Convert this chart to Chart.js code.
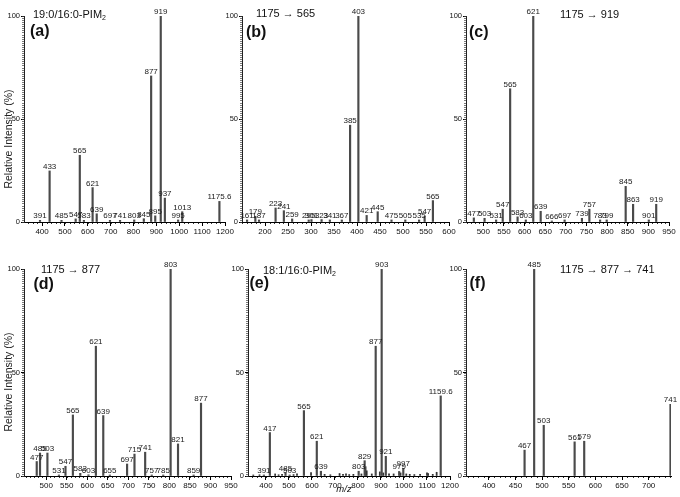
<!DOCTYPE html>
<html><head><meta charset="utf-8">
<script src="https://cdn.jsdelivr.net/npm/chart.js@4.4.0/dist/chart.umd.min.js"></script>
<style>
html,body{margin:0;padding:0;background:#fff;}
#wrap{position:relative;width:680px;height:497px;overflow:hidden;background:#fff;}
canvas{position:absolute;}
.t{position:absolute;font-family:'Liberation Sans',Arial,sans-serif;color:#111;white-space:nowrap;line-height:1;z-index:5;}
.tt{font-size:11px;}
.lt{font-size:16px;font-weight:bold;}
.yl{font-size:10.5px;color:#222;transform:translate(-50%,-50%) rotate(-90deg);}
.mz{font-size:9.5px;font-style:italic;transform:translate(-50%,-50%);}
sub{font-size:7px;vertical-align:-2px;line-height:0;}
</style></head><body><div id="wrap">
<div class="t tt" style="left:33px;top:8.6px">19:0/16:0-PIM<sub>2</sub></div>
<div class="t lt" style="left:30px;top:23px">(a)</div>
<div class="t tt" style="left:256px;top:7.6px">1175 → 565</div>
<div class="t lt" style="left:246px;top:24px">(b)</div>
<div class="t tt" style="left:560px;top:8.6px">1175 → 919</div>
<div class="t lt" style="left:469px;top:23.5px">(c)</div>
<div class="t tt" style="left:41px;top:263.6px">1175 → 877</div>
<div class="t lt" style="left:33.5px;top:276px">(d)</div>
<div class="t tt" style="left:263px;top:265px">18:1/16:0-PIM<sub>2</sub></div>
<div class="t lt" style="left:249.5px;top:275px">(e)</div>
<div class="t tt" style="left:560px;top:263.6px">1175 → 877 → 741</div>
<div class="t lt" style="left:469.5px;top:275px">(f)</div>
<div class="t yl" style="left:8px;top:139px">Relative Intensity (%)</div>
<div class="t yl" style="left:8px;top:382px">Relative Intensity (%)</div>
<div class="t mz" style="left:344px;top:489px">m/z</div>
</div>
<script>
// ---- data: m/z of labelled peaks and relative intensities (%) ----
const aMz  = [391, 433, 485, 547, 565, 583, 621, 639, 697, 741, 803, 845, 877, 895, 919, 937, 995, 1013, 1175.6];
const aInt = [0.8, 24.8, 0.8, 1.5, 32.4, 0.8, 16.7, 4, 0.8, 0.8, 1, 1.6, 70.9, 3, 100, 11.6, 1, 5, 10];

const bMz  = [161, 179, 187, 223, 241, 259, 295, 301, 323, 341, 367, 385, 403, 421, 445, 475, 505, 535, 547, 565];
const bInt = [1, 2.8, 1, 6.8, 5.5, 1.5, 1, 1.2, 1.2, 1, 1, 47, 100, 3.2, 5, 1, 1, 1, 2.8, 10.4];

const cMz  = [477, 503, 531, 547, 565, 583, 603, 621, 639, 666, 697, 739, 757, 783, 799, 845, 863, 901, 919];
const cInt = [2, 1.8, 1, 6.2, 64.7, 2.5, 1, 100, 5.2, 0.5, 1, 1.8, 6.2, 1, 1, 17.3, 8.6, 1, 8.6];

const dMz  = [477, 485, 503, 531, 547, 565, 583, 603, 621, 639, 655, 697, 715, 741, 757, 785, 803, 821, 859, 877];
const dInt = [7, 11.1, 11.1, 0.5, 4.7, 29.5, 1.3, 0.6, 62.7, 29.2, 0.5, 5.8, 10.6, 11.5, 0.5, 0.5, 100, 15.5, 0.5, 35.2];

const eMz  = [391, 417, 485, 503, 565, 621, 639, 803, 829, 877, 903, 921, 979, 997, 1159.6];
const eInt = [0.5, 21, 1.5, 0.5, 31.6, 16.8, 2.3, 2.3, 7.4, 62.7, 100, 9.5, 2.2, 3.7, 38.7];
// unlabelled small peaks in (e)
const eNoiseMz  = [345, 372, 440, 455, 470, 520, 535, 596, 655, 680, 720, 735, 748, 762, 780, 815, 833, 838, 860, 895, 910, 935, 955, 985, 1010, 1025, 1045, 1070, 1100, 1105, 1125, 1142];
const eNoiseInt = [0.5, 0.6, 1, 0.6, 0.8, 0.7, 1, 1.6, 0.8, 0.6, 1.2, 0.8, 1, 0.7, 0.8, 1, 4.5, 2.5, 1, 2, 1.5, 1, 1, 1.5, 1, 0.8, 0.7, 0.8, 1.5, 1.2, 0.8, 1.8];

const fMz  = [467, 485, 503, 561, 579, 741];
const fInt = [12.5, 100, 24.5, 16.5, 16.8, 34.6];

// ---- tick labels ----
const aTicks = [400, 500, 600, 700, 800, 900, 1000, 1100, 1200];
const bTicks = [200, 250, 300, 350, 400, 450, 500, 550, 600];
const cTicks = [500, 550, 600, 650, 700, 750, 800, 850, 900, 950];
const dTicks = [500, 550, 600, 650, 700, 750, 800, 850, 900, 950];
const eTicks = [400, 500, 600, 700, 800, 900, 1000, 1100, 1200];
const fTicks = [400, 450, 500, 550, 600, 650, 700];
const yTicks = [0, 50, 100];

// ---- layout / style ----
const NARROW = "'Liberation Sans Narrow','Liberation Sans',Arial,sans-serif";
const YW = 22, XH = 14, PT = 12, PR = 14;
const panels = [
  {mz:aMz, it:aInt, nmz:[], nit:[], ticks:aTicks, xmin:321, xmax:1200, minor:20, l:24,  r:225, t:16,  b:222},
  {mz:bMz, it:bInt, nmz:[], nit:[], ticks:bTicks, xmin:150, xmax:600,  minor:10, l:242, r:449, t:16,  b:222},
  {mz:cMz, it:cInt, nmz:[], nit:[], ticks:cTicks, xmin:458, xmax:950,  minor:10, l:466, r:669, t:16,  b:222},
  {mz:dMz, it:dInt, nmz:[], nit:[], ticks:dTicks, xmin:446, xmax:950,  minor:10, l:24,  r:231, t:269, b:476},
  {mz:eMz, it:eInt, nmz:eNoiseMz, nit:eNoiseInt, ticks:eTicks, xmin:322, xmax:1200, minor:20, l:248, r:450, t:269, b:476},
  {mz:fMz, it:fInt, nmz:[], nit:[], ticks:fTicks, xmin:357, xmax:742,  minor:10, l:466, r:671, t:269, b:476}
];

const peakPlugin = {
  id: 'peaks',
  afterDatasetsDraw(chart) {
    const o = chart.options.plugins.peaks;
    const ctx = chart.ctx, ca = chart.chartArea;
    const xs = chart.scales.x, ys = chart.scales.y;
    ctx.save();
    // minor ticks
    ctx.strokeStyle = '#444'; ctx.lineWidth = 0.7;
    ctx.beginPath();
    for (let v = 0; v <= 100; v += 1) {
      const py = Math.round(ys.getPixelForValue(v)) + 0.5;
      ctx.moveTo(ca.left - 2, py); ctx.lineTo(ca.left, py);
    }
    ctx.stroke();
    ctx.strokeStyle = '#000'; ctx.lineWidth = 0.8;
    ctx.beginPath();
    const start = Math.ceil(o.xmin / o.minor) * o.minor;
    for (let v = start; v <= o.xmax; v += o.minor) {
      const px = Math.round(xs.getPixelForValue(v)) + 0.5;
      ctx.moveTo(px, ca.bottom); ctx.lineTo(px, ca.bottom + 2);
    }
    ctx.stroke();
    // peak labels
    const meta = chart.getDatasetMeta(0);
    ctx.fillStyle = '#1a1a1a';
    ctx.font = '8px ' + NARROW;
    ctx.textAlign = 'center';
    ctx.textBaseline = 'alphabetic';
    meta.data.forEach((el, i) => {
      ctx.fillText(String(o.labels[i]), el.x, el.y - 2);
    });
    ctx.restore();
  }
};

const wrap = document.getElementById('wrap');
panels.forEach(p => {
  const cv = document.createElement('canvas');
  const w = p.r - p.l + YW + PR, h = p.b - p.t + PT + XH;
  cv.width = w; cv.height = h;
  cv.style.left = (p.l - YW) + 'px';
  cv.style.top = (p.t - PT) + 'px';
  cv.style.width = w + 'px'; cv.style.height = h + 'px';
  wrap.appendChild(cv);
  const main = p.mz.map((m, i) => ({x: m, y: p.it[i]}));
  const noise = p.nmz.map((m, i) => ({x: m, y: p.nit[i]}));
  new Chart(cv, {
    type: 'bar',
    data: { datasets: [
      {data: main, backgroundColor: '#4a4a4a', barThickness: 1.5, grouped: false},
      {data: noise, backgroundColor: '#333', barThickness: 1.1, grouped: false}
    ]},
    plugins: [peakPlugin],
    options: {
      responsive: false, animation: false, devicePixelRatio: 1,
      layout: {padding: {top: PT, right: PR, left: 0, bottom: 0}},
      plugins: {
        legend: {display: false}, tooltip: {enabled: false},
        peaks: {labels: p.mz, xmin: p.xmin, xmax: p.xmax, minor: p.minor}
      },
      scales: {
        x: {
          type: 'linear', min: p.xmin, max: p.xmax, offset: false,
          afterBuildTicks: s => { s.ticks = p.ticks.map(v => ({value: v})); },
          grid: {display: true, drawOnChartArea: false, drawTicks: true, tickLength: 4, color: '#000', offset: false},
          border: {display: true, color: '#000', width: 1},
          ticks: {
            autoSkip: false, maxRotation: 0, minRotation: 0,
            padding: 1, color: '#111', font: {family: NARROW, size: 8},
            callback: (v) => String(v)
          },
          afterFit: s => { s.height = XH; }
        },
        y: {
          type: 'linear', min: 0, max: 100,
          afterBuildTicks: s => { s.ticks = yTicks.map(v => ({value: v})); },
          grid: {display: true, drawOnChartArea: false, drawTicks: true, tickLength: 3, color: '#000'},
          border: {display: true, color: '#222', width: 1},
          ticks: {padding: 1, color: '#111', font: {family: NARROW, size: 7.5}},
          afterFit: s => { s.width = YW; }
        }
      }
    }
  });
});
</script>
</body></html>
